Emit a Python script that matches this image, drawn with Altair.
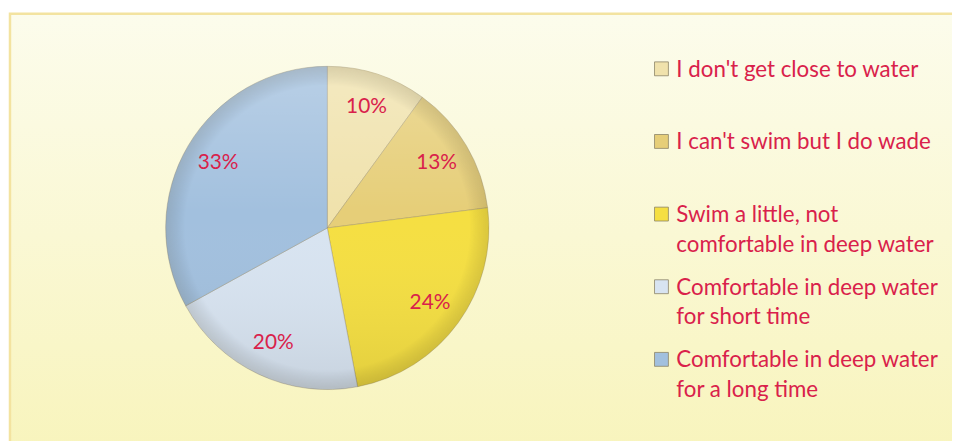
import altair as alt
import pandas as pd

categories = [
    "I don't get close to water",
    "I can't swim but I do wade",
    "Swim a little, not comfortable in deep water",
    "Comfortable in deep water for short time",
    "Comfortable in deep water for a long time",
]
values = [10, 13, 24, 20, 33]
pct_labels = ["10%", "13%", "24%", "20%", "33%"]
legend_line1 = [
    "I don't get close to water",
    "I can't swim but I do wade",
    "Swim a little, not",
    "Comfortable in deep water",
    "Comfortable in deep water",
]
legend_line2 = ["", "", "comfortable in deep water", "for short time", "for a long time"]
colors = ["#F0E2AC", "#E6CE78", "#F5DF42", "#D8E4F1", "#A2C0DE"]

df = pd.DataFrame({
    "category": categories,
    "value": values,
    "label": pct_labels,
    "line1": legend_line1,
    "line2": legend_line2,
    "order": list(range(len(categories))),
})
one = pd.DataFrame({"k": [0]})

CX, CY, R = 322, 220, 163
TEXT_RED = "#D9214B"
FONT = "Lato"

color_enc = alt.Color("category:N", scale=alt.Scale(domain=categories, range=colors), legend=None)

# background frame with vertical gradient
bg = alt.Chart(one).mark_rect(
    color=alt.Gradient(
        gradient="linear",
        stops=[alt.GradientStop(color="#FCFCEC", offset=0), alt.GradientStop(color="#F8F4BC", offset=1)],
        x1=0, x2=0, y1=0, y2=1,
    ),
    stroke="#F3E3A0",
    strokeWidth=2.5,
).encode(x=alt.value(2), x2=alt.value(970), y=alt.value(4), y2=alt.value(450))

pie = alt.Chart(df).mark_arc(
    outerRadius=R, stroke="#8F8468", strokeWidth=0.8, strokeOpacity=0.45
).encode(
    theta=alt.Theta("value:Q", stack=True),
    order=alt.Order("order:Q"),
    color=color_enc,
    x=alt.value(CX),
    y=alt.value(CY),
)

shade_lin = alt.Chart(one).mark_arc(
    outerRadius=R, theta=0, theta2=6.2832,
    color=alt.Gradient(
        gradient="linear",
        stops=[
            alt.GradientStop(color="rgba(255,255,255,0.25)", offset=0),
            alt.GradientStop(color="rgba(255,255,255,0.0)", offset=0.45),
            alt.GradientStop(color="rgba(0,0,0,0.08)", offset=1),
        ],
        x1=0, x2=0, y1=0, y2=1,
    ),
).encode(x=alt.value(CX), y=alt.value(CY))

shade_rad = alt.Chart(one).mark_arc(
    outerRadius=R, theta=0, theta2=6.2832,
    color=alt.Gradient(
        gradient="radial",
        stops=[
            alt.GradientStop(color="rgba(0,0,0,0)", offset=0),
            alt.GradientStop(color="rgba(0,0,0,0)", offset=0.88),
            alt.GradientStop(color="rgba(60,50,20,0.14)", offset=1),
        ],
        x1=0.5, y1=0.5, r1=0, x2=0.5, y2=0.5, r2=0.5,
    ),
).encode(x=alt.value(CX), y=alt.value(CY))

pct = alt.Chart(df).mark_text(
    radius=128, fontSize=21, font=FONT, color=TEXT_RED
).encode(
    theta=alt.Theta("value:Q", stack=True),
    order=alt.Order("order:Q"),
    text="label:N",
    x=alt.value(CX),
    y=alt.value(CY),
)

ypos = alt.Y(
    "category:N",
    scale=alt.Scale(type="point", domain=categories, range=[59.5, 352.5], padding=0),
    axis=None,
)

markers = alt.Chart(df).mark_square(
    size=196, opacity=1, stroke="#8C8468", strokeWidth=0.8
).encode(x=alt.value(659), y=ypos, color=color_enc)

leg1 = alt.Chart(df).mark_text(
    align="left", baseline="middle", fontSize=22.5, font=FONT, color=TEXT_RED, dy=1
).encode(x=alt.value(674), y=ypos, text="line1:N")

leg2 = alt.Chart(df).mark_text(
    align="left", baseline="middle", fontSize=22.5, font=FONT, color=TEXT_RED, dy=31
).encode(x=alt.value(674), y=ypos, text="line2:N")

chart = alt.layer(bg, pie, shade_lin, shade_rad, pct, markers, leg1, leg2).properties(
    width=952, height=433, padding=0, autosize=alt.AutoSizeParams(type="none"), background="white"
).configure_view(stroke=None)

chart.save("out.html", embed_options={"renderer": "svg", "actions": False})
